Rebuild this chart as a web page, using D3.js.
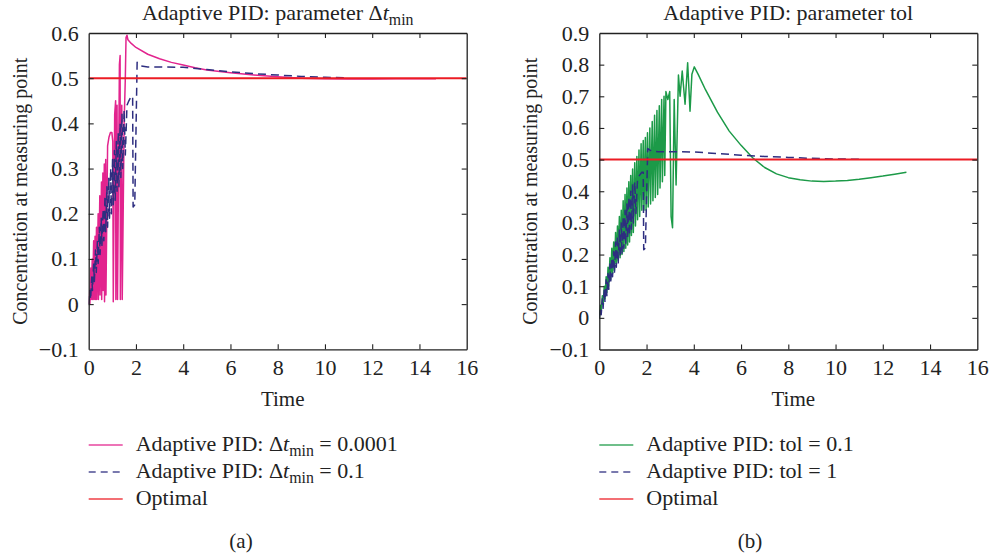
<!DOCTYPE html>
<html>
<head>
<meta charset="utf-8">
<script src="https://cdn.jsdelivr.net/npm/d3@7"></script>
<style>
  body { margin: 0; background: #fff; }
  svg { display: block; font-family: "Liberation Serif", "DejaVu Serif", serif; }
</style>
</head>
<body>
<svg id="chart" width="992" height="558"></svg>
<script>
// Time grid and tick labels
const xTicks = [0, 2, 4, 6, 8, 10, 12, 14, 16];
const yTicksA = [-0.1, 0, 0.1, 0.2, 0.3, 0.4, 0.5, 0.6];
const yTicksB = [-0.1, 0, 0.1, 0.2, 0.3, 0.4, 0.5, 0.6, 0.7, 0.8, 0.9];

// Optimal concentration (set point)
const optimal = [[0, 0.5], [16, 0.5]];

// Adaptive PID, Δt_min = 0.0001  [time, concentration]
const dtMinSmall = [
  [0.00,0.00],[0.04,0.03],[0.05,0.00],[0.09,0.08],[0.10,0.01],[0.15,0.10],[0.16,0.01],
  [0.21,0.14],[0.22,0.01],[0.27,0.15],[0.28,0.01],[0.33,0.17],[0.34,0.01],[0.40,0.20],
  [0.41,0.01],[0.47,0.24],[0.48,0.02],[0.54,0.27],[0.55,0.01],[0.60,0.29],[0.61,0.03],
  [0.66,0.31],[0.67,0.005],[0.72,0.32],[0.73,0.02],[0.80,0.35],[0.86,0.37],[0.92,0.38],
  [0.98,0.38],[1.02,0.36],[1.04,0.005],[1.10,0.42],[1.14,0.45],[1.15,0.01],[1.20,0.44],
  [1.22,0.01],[1.30,0.53],[1.33,0.55],[1.34,0.01],[1.40,0.44],[1.42,0.01],[1.50,0.40],
  [1.55,0.50],[1.58,0.59],[1.62,0.595],[1.66,0.585],[1.80,0.577],[2.00,0.568],[2.50,0.553],
  [3.00,0.543],[3.50,0.535],[4.00,0.529],[4.50,0.523],[5.00,0.518],[6.00,0.512],[7.00,0.507],
  [8.00,0.503],[9.00,0.500],[10.0,0.499],[11.0,0.498],[12.0,0.498],[13.0,0.499],[14.0,0.499],
  [14.7,0.499]
];

// Adaptive PID, Δt_min = 0.1 (same run as tol = 1)
const baselineRun = [
  [0.00,0.00],[0.05,0.03],[0.08,0.01],[0.13,0.06],[0.16,0.03],[0.21,0.09],[0.24,0.05],
  [0.29,0.12],[0.32,0.07],[0.37,0.14],[0.40,0.09],[0.45,0.17],[0.48,0.11],[0.53,0.19],
  [0.56,0.13],[0.61,0.21],[0.64,0.14],[0.69,0.24],[0.72,0.16],[0.77,0.26],[0.80,0.17],
  [0.85,0.28],[0.88,0.19],[0.93,0.30],[0.96,0.20],[1.01,0.32],[1.04,0.22],[1.09,0.34],
  [1.12,0.23],[1.17,0.36],[1.20,0.25],[1.25,0.38],[1.28,0.26],[1.33,0.40],[1.36,0.28],
  [1.41,0.42],[1.44,0.30],[1.50,0.43],[1.55,0.33],[1.62,0.44],[1.70,0.45],[1.80,0.46],
  [1.86,0.46],[1.88,0.215],[1.95,0.22],[2.05,0.535],[2.20,0.527],[2.50,0.525],[3.00,0.525],
  [4.00,0.524],[5.00,0.519],[6.00,0.514],[7.00,0.510],[8.00,0.507],[9.00,0.504],
  [10.0,0.502],[11.0,0.501]
];

// Adaptive PID, tol = 0.1
const tolSmall = [
  [0.00,0.00],[0.05,0.04],[0.08,0.02],[0.13,0.07],[0.16,0.04],[0.21,0.10],[0.24,0.06],
  [0.29,0.13],[0.32,0.08],[0.37,0.16],[0.40,0.10],[0.45,0.19],[0.48,0.12],[0.53,0.22],
  [0.56,0.14],[0.61,0.24],[0.64,0.15],[0.69,0.27],[0.72,0.17],[0.77,0.29],[0.80,0.18],
  [0.85,0.32],[0.88,0.19],[0.93,0.34],[0.96,0.20],[1.01,0.37],[1.04,0.21],[1.09,0.39],
  [1.12,0.22],[1.17,0.41],[1.20,0.23],[1.25,0.43],[1.28,0.24],[1.33,0.45],[1.36,0.26],
  [1.41,0.47],[1.44,0.27],[1.50,0.49],[1.53,0.29],[1.59,0.51],[1.62,0.31],[1.68,0.53],
  [1.71,0.32],[1.77,0.55],[1.80,0.34],[1.86,0.56],[1.89,0.34],[1.95,0.57],[1.98,0.34],
  [2.04,0.585],[2.07,0.35],[2.14,0.60],[2.17,0.36],[2.24,0.62],[2.27,0.37],[2.34,0.64],
  [2.37,0.38],[2.44,0.655],[2.47,0.39],[2.54,0.67],[2.57,0.41],[2.64,0.69],[2.67,0.43],
  [2.74,0.70],[2.77,0.45],[2.82,0.715],[2.90,0.69],[2.98,0.715],[3.04,0.32],[3.10,0.285],
  [3.17,0.69],[3.25,0.42],[3.35,0.767],[3.42,0.70],[3.51,0.78],[3.63,0.675],[3.74,0.806],
  [3.84,0.653],[3.92,0.77],[4.02,0.793],[4.18,0.77],[4.50,0.72],[5.00,0.65],[5.50,0.59],
  [6.00,0.545],[6.50,0.505],[7.00,0.475],[7.50,0.455],[8.00,0.443],[8.50,0.436],
  [9.00,0.432],[9.50,0.431],[10.0,0.432],[10.5,0.434],[11.0,0.438],[11.5,0.443],
  [12.0,0.448],[12.5,0.454],[13.0,0.460]
];

const colors = {
  magenta: "#e2248e",
  navy: "#2e2e80",
  red: "#ec1c24",
  green: "#1c9a48"
};

const SERIF = '"Liberation Serif", "DejaVu Serif", serif';
const svg = d3.select("#chart");
const FONT = 22;       // titles, ticks, legend
const FONT_TIME = 21;  // x-axis label and panel tags
const FONT_YLAB = 20;  // rotated y-axis label

// Writes "Δt_min" style text: Greek delta, italic t, subscript "min"
function dtMin(textSel, before, after, size) {
  textSel.append("tspan").text(before + "Δ");
  textSel.append("tspan").attr("font-style", "italic").text("t");
  textSel.append("tspan").attr("font-size", size * 0.72).attr("dy", size * 0.22).text("min");
  if (after) textSel.append("tspan").attr("dy", -size * 0.22).text(after);
}

function panel(opts) {
  const x = d3.scaleLinear().domain([0, 16]).range(opts.xRange);
  const y = d3.scaleLinear().domain(opts.yDomain).range(opts.yRange);
  const g = svg.append("g");
  const fmt = d3.format(".1~f");

  // Clip series to the plot box
  const clipId = "clip-" + opts.id;
  svg.append("clipPath").attr("id", clipId).append("rect")
    .attr("x", x(0)).attr("y", y(opts.yDomain[1]))
    .attr("width", x(16) - x(0)).attr("height", y(opts.yDomain[0]) - y(opts.yDomain[1]));

  const line = d3.line().x(d => x(d[0])).y(d => y(d[1]));
  const plot = g.append("g").attr("clip-path", `url(#${clipId})`);
  opts.series.forEach(s => {
    plot.append("path").datum(s.data)
      .attr("d", line)
      .attr("fill", "none")
      .attr("stroke", s.color)
      .attr("stroke-width", s.width)
      .attr("stroke-linejoin", "round")
      .attr("stroke-dasharray", s.dash || null);
  });

  // Box axes with inward ticks
  const bottom = g.append("g").attr("transform", `translate(0,${y(opts.yDomain[0])})`)
    .call(d3.axisBottom(x).tickValues(xTicks).tickSizeInner(-5).tickSizeOuter(0).tickPadding(10));
  const top = g.append("g").attr("transform", `translate(0,${y(opts.yDomain[1])})`)
    .call(d3.axisTop(x).tickValues(xTicks).tickSizeInner(-5).tickSizeOuter(0).tickFormat(""));
  const left = g.append("g").attr("transform", `translate(${x(0)},0)`)
    .call(d3.axisLeft(y).tickValues(opts.yTicks).tickSizeInner(-5).tickSizeOuter(0).tickPadding(10).tickFormat(fmt));
  const right = g.append("g").attr("transform", `translate(${x(16)},0)`)
    .call(d3.axisRight(y).tickValues(opts.yTicks).tickSizeInner(-5).tickSizeOuter(0).tickFormat(""));
  [bottom, top, left, right].forEach(a => {
    a.attr("font-family", SERIF).attr("font-size", FONT);
    a.select(".domain").attr("stroke", "#222").attr("stroke-width", 1.3);
    a.selectAll(".tick line").attr("stroke", "#222").attr("stroke-width", 1.1);
    a.selectAll("text").attr("fill", "#222");
  });
  // Endpoint ticks at the box edges are the box itself
  [top, bottom].forEach(a => a.selectAll(".tick").filter(d => d === 0 || d === 16).select("line").remove());
  [left, right].forEach(a => a.selectAll(".tick").filter(d => d === opts.yDomain[0] || d === opts.yDomain[1]).select("line").remove());

  // Title
  const cx = (x(0) + x(16)) / 2;
  const title = g.append("text").attr("x", cx).attr("y", 20)
    .attr("text-anchor", "middle").attr("font-size", FONT).attr("fill", "#222");
  opts.title(title);

  // Axis labels
  g.append("text").attr("x", cx + 5).attr("y", 406).attr("text-anchor", "middle")
    .attr("font-size", FONT_TIME).attr("fill", "#222").text("Time");
  g.append("text")
    .attr("transform", `translate(${x(0) - opts.yLabelGap},${(y(opts.yDomain[0]) + y(opts.yDomain[1])) / 2}) rotate(-90)`)
    .attr("text-anchor", "middle").attr("font-size", FONT_YLAB).attr("fill", "#222")
    .text("Concentration at measuring point");

  // Legend
  const lx = x(0);
  opts.legend.forEach((item, i) => {
    const ly = 445 + i * 27;
    g.append("line").attr("x1", lx).attr("x2", lx + 34).attr("y1", ly).attr("y2", ly)
      .attr("stroke", item.color).attr("stroke-width", 1.3).attr("stroke-opacity", 0.85)
      .attr("stroke-dasharray", item.dash ? "7,5" : null);
    const t = g.append("text").attr("x", lx + 47).attr("y", ly + 6)
      .attr("font-size", FONT).attr("fill", "#222");
    item.label(t);
  });

  // Panel tag
  g.append("text").attr("x", opts.tagX).attr("y", 548).attr("text-anchor", "middle")
    .attr("font-size", FONT_TIME).attr("fill", "#222").text(opts.tag);
}

panel({
  id: "a",
  xRange: [88.7, 466.7],
  yDomain: [-0.1, 0.6],
  yRange: [349.3, 33],
  yTicks: yTicksA,
  yLabelGap: 62,
  series: [
    { data: dtMinSmall, color: colors.magenta, width: 1.5 },
    { data: baselineRun, color: colors.navy, width: 1.5, dash: "8,5" },
    { data: optimal, color: colors.red, width: 2 }
  ],
  title: t => dtMin(t, "Adaptive PID: parameter ", "", FONT),
  legend: [
    { color: colors.magenta, label: t => dtMin(t, "Adaptive PID: ", " = 0.0001", FONT) },
    { color: colors.navy, dash: true, label: t => dtMin(t, "Adaptive PID: ", " = 0.1", FONT) },
    { color: colors.red, label: t => t.text("Optimal") }
  ],
  tag: "(a)",
  tagX: 241
});

panel({
  id: "b",
  xRange: [599.3, 977.3],
  yDomain: [-0.1, 0.9],
  yRange: [349.5, 33],
  yTicks: yTicksB,
  yLabelGap: 62,
  series: [
    { data: tolSmall, color: colors.green, width: 1.5 },
    { data: baselineRun, color: colors.navy, width: 1.5, dash: "8,5" },
    { data: optimal, color: colors.red, width: 2 }
  ],
  title: t => t.text("Adaptive PID: parameter tol"),
  legend: [
    { color: colors.green, label: t => t.text("Adaptive PID: tol = 0.1") },
    { color: colors.navy, dash: true, label: t => t.text("Adaptive PID: tol = 1") },
    { color: colors.red, label: t => t.text("Optimal") }
  ],
  tag: "(b)",
  tagX: 750
});
</script>
</body>
</html>
